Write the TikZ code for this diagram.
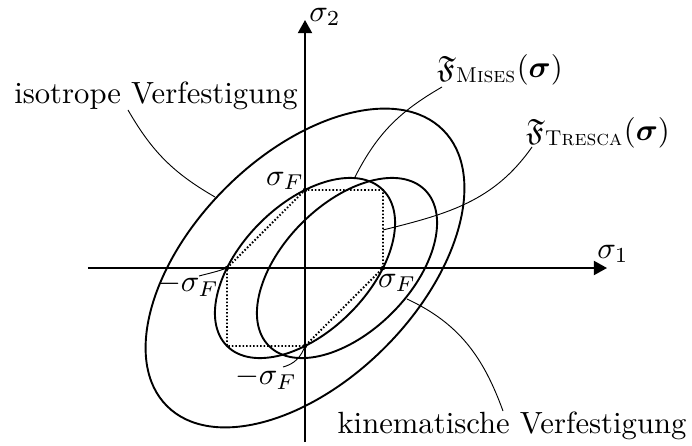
\documentclass[tikz,border=0pt]{standalone}
\usepackage{amsmath,amssymb}
\usetikzlibrary{arrows.meta}
\begin{document}
\begin{tikzpicture}[x=0.326pt,y=0.326pt,
  curve/.style={line width=0.62pt},
  axis/.style={line width=0.62pt,-{Triangle[length=4.3pt,width=4.6pt]}},
  leader/.style={line width=0.3pt},
  tresca/.style={line width=0.6pt,dash pattern=on 0.5pt off 0.65pt},
  dot/.style={fill=black}]
\useasboundingbox (-305,-177) rectangle (387,268);
% axes
\coordinate (xs) at (-217,0);
\coordinate (xe) at (302,0);
\coordinate (ys) at (0,-174);
\coordinate (ye) at (0,248);
\draw[axis] (xs) -- (xe);
\draw[axis] (ys) -- (ye);
\node (s1) at (308,14) {$\sigma_1$};
\node (s2) at (20,251) {$\sigma_2$};
% ellipses
\draw[curve, rotate=45] (0,0) ellipse [x radius=110.3, y radius=63.7];
\draw[curve, rotate around={45:(42,0)}] (42,0) ellipse [x radius=110.3, y radius=63.7];
\draw[curve, rotate=45] (0,0) ellipse [x radius=195.2, y radius=112.7];
% Tresca hexagon
\coordinate (pR) at (78,0);
\coordinate (pT) at (0,78);
\coordinate (pL) at (-78,0);
\coordinate (pB) at (0,-78);
\draw[tresca] (pR) -- (78,78) -- (pT) -- (pL) -- (-78,-78) -- (pB) -- cycle;
\foreach \p in {pR,pT,pL,pB} \fill[dot] (\p) circle [radius=2.2];
% sigma_F labels
\node (lT) at (-20,87) {$\sigma_F$};
\node (lR) at (92,-15) {$\sigma_F$};
\node (lL) at (-117,-17) {$-\sigma_F$};
\node (lB) at (-39,-110) {$-\sigma_F$};
\coordinate (lLe) at (-106,-8);
\coordinate (lBe) at (-22,-99);
\draw[leader] (pL) to[out=200,in=15] (lLe);
\draw[leader] (pB) to[out=-110,in=15] (lBe);
% texts
\node (iso) at (-149,172) {isotrope Verfestigung};
\node (mises) at (195,198) {$\mathfrak{F}_{\text{\textsc{Mises}}}(\boldsymbol{\sigma})$};
\node (tresca) at (293,135) {$\mathfrak{F}_{\text{\textsc{Tresca}}}(\boldsymbol{\sigma})$};
\node (kin) at (207,-158) {kinematische Verfestigung};
% leaders
\coordinate (isoA) at (-177,158);
\coordinate (isoB) at (-90,71);
\draw[leader] (isoA) to[out=-60,in=150] (isoB);
\coordinate (misA) at (137,181);
\coordinate (misB) at (50,91);
\draw[leader] (misA) to[out=210,in=63] (misB);
\coordinate (trA) at (227,121);
\coordinate (trB) at (78,38);
\draw[leader] (trA) to[out=235,in=14] (trB);
\coordinate (kinA) at (198,-143);
\coordinate (kinB) at (102,-31);
\draw[leader] (kinA) to[out=110,in=-25] (kinB);
\end{tikzpicture}
\end{document}
